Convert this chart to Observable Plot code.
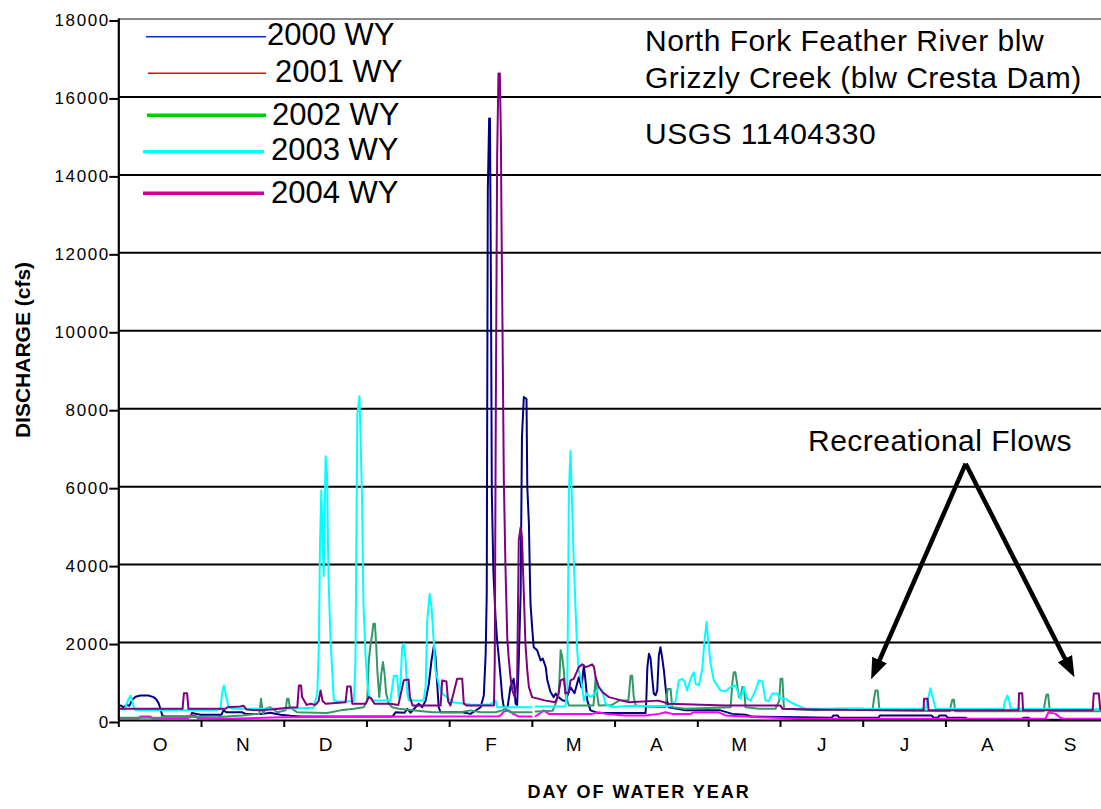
<!DOCTYPE html>
<html><head><meta charset="utf-8">
<script src="https://cdn.jsdelivr.net/npm/d3@7"></script>
<script src="https://cdn.jsdelivr.net/npm/@observablehq/plot@0.6"></script>
<style>
body{margin:0;background:#fff;}
#wrap{position:relative;width:1101px;height:809px;overflow:hidden;font-family:"Liberation Sans",Arial,sans-serif;}
#wrap svg{font-family:"Liberation Sans",Arial,sans-serif;}
g[aria-label="y-axis tick label"] text{letter-spacing:1.6px;}
.xlab text{letter-spacing:2px;}
</style></head>
<body><div id="wrap"></div>
<script>
// ---------- data (day of water year, discharge cfs) ----------
const wy2000 = [[0.6,385],[1.8,340],[2.9,400],[4.0,380],[5.0,530],[6.3,610],[8.1,640],[11.1,640],[13.0,600],[14.1,540],[15.0,430],[15.6,300],[16.3,130],[17.5,100],[26.9,100],[27.4,190],[30.6,150],[38.5,150],[39.2,260],[40.4,210],[46.3,210],[47.5,170],[53.9,170],[56.8,200],[60.6,150],[64.4,120],[68.1,100],[86.9,100],[102.6,100],[103.7,210],[107.1,200],[108.1,300],[109.3,200],[111.2,340],[112.4,430],[113.7,340],[115.0,510],[116.2,940],[117.2,1540],[118.1,1930],[118.7,1630],[119.4,860],[119.9,340],[120.6,210],[128.8,210],[131.8,170],[135.6,340],[136.8,640],[137.5,1720],[137.9,3250],[138.3,13600],[138.8,15450],[139.1,15450],[139.5,10800],[139.8,5850],[140.4,3800],[141.2,2650],[141.8,2050],[142.4,1630],[143.1,1110],[143.7,600],[144.3,340],[145.7,340],[146.8,860],[148.0,1070],[148.7,430],[149.3,400],[149.9,1540],[150.6,3250],[151.1,7280],[151.8,8300],[152.8,8250],[153.1,5990],[153.7,5050],[154.1,3600],[154.3,3000],[154.9,2400],[155.5,1880],[156.8,1800],[158.1,1540],[158.9,1590],[160.0,1370],[160.6,1030],[161.8,730],[163.0,600],[163.7,690],[164.8,600],[166.2,520],[167.4,500],[169.3,850],[170.8,700],[172.4,1110],[173.4,850],[174.3,1410],[174.9,1030],[175.6,510],[176.8,260],[179.8,190],[197.4,190],[197.7,510],[198.1,1370],[198.7,1710],[199.3,1590],[199.9,1110],[200.5,690],[201.2,650],[201.8,770],[202.4,1670],[203.0,1880],[203.7,1590],[204.3,1280],[204.9,860],[205.5,510],[206.1,340],[212.4,260],[225.5,260],[229.9,170],[234.9,150],[237.5,100],[255.5,85],[267.1,70],[267.9,130],[269.4,130],[270.1,70],[284.7,70],[285.3,130],[304.6,130],[305.4,70],[306.9,70],[307.6,130],[309.9,130],[310.7,70],[317.4,70],[318.1,20],[338.0,20],[339.1,70],[341.0,70],[341.7,20],[368.3,20]];
const wy2001 = [[0.6,60],[7.4,60],[8.1,100],[11.9,100],[12.6,60],[26.1,60],[26.9,130],[28.7,130],[29.5,60],[41.9,45],[61.8,85],[118.0,100],[142.3,110],[143.1,130],[144.3,230],[146.2,260],[147.6,180],[149.9,100],[154.7,100],[155.1,null],[156.2,110],[158.1,200],[159.3,260],[160.3,210],[161.2,170],[177.4,170],[179.9,210],[182.4,170],[189.9,130],[197.4,130],[202.3,170],[204.9,210],[207.5,170],[214.3,170],[215.4,210],[224.8,210],[227.4,130],[239.8,85],[254.8,45],[347.3,45],[348.4,210],[351.1,170],[352.9,70],[354.1,45],[368.3,45]];
const wy2002 = [[0.6,70],[15.6,70],[16.3,100],[36.2,85],[46.3,130],[51.9,170],[52.7,170],[53.3,560],[54.0,170],[55.0,300],[56.8,340],[59.4,210],[62.5,260],[63.1,560],[63.6,560],[64.1,340],[66.9,210],[73.7,200],[78.1,190],[83.1,260],[88.1,300],[91.8,340],[93.1,510],[93.7,1540],[94.4,1970],[95.0,2230],[95.4,2480],[96.0,2480],[96.5,1880],[96.9,1280],[97.6,600],[98.4,1200],[99.0,1500],[99.6,1200],[100.2,690],[101.2,430],[102.5,340],[104.9,300],[110.0,260],[117.5,210],[128.1,210],[131.8,260],[135.6,210],[141.2,210],[143.7,260],[144.9,300],[146.8,210],[154.7,210],[155.1,null],[156.2,230],[162.6,250],[163.7,430],[164.9,690],[165.6,1800],[166.2,1630],[166.8,1280],[167.4,690],[168.1,510],[168.7,385],[177.9,385],[178.7,1110],[179.2,700],[179.9,385],[184.9,400],[187.4,510],[191.0,510],[191.8,1150],[192.4,1150],[193.0,600],[193.7,385],[197.4,360],[204.9,340],[205.7,810],[206.8,810],[207.4,340],[212.4,300],[229.3,340],[230.0,1000],[230.5,1240],[231.1,1240],[231.8,900],[232.4,600],[233.0,600],[233.7,860],[234.3,860],[234.9,340],[239.9,300],[246.1,300],[247.5,500],[248.0,1070],[248.7,1070],[249.3,300],[261.1,260],[268.6,300],[278.7,300],[282.5,260],[282.9,500],[283.6,770],[284.4,770],[285.1,260],[311.5,240],[311.9,400],[312.4,530],[313.0,530],[313.4,240],[346.6,240],[347.2,500],[347.7,670],[348.3,670],[348.9,240],[368.3,240]];
const wy2003 = [[0.6,300],[2.1,280],[3.7,560],[4.4,640],[5.0,500],[5.6,340],[6.3,260],[36.2,260],[38.1,300],[38.7,700],[39.4,900],[40.0,700],[41.1,350],[42.6,300],[61.7,300],[73.0,330],[74.4,700],[75.0,2000],[75.4,4500],[75.9,5900],[76.4,4600],[76.8,3700],[77.2,5500],[77.5,6780],[78.1,6250],[78.4,4500],[78.7,3420],[79.4,2000],[80.6,510],[83.1,480],[88.1,500],[88.7,1500],[89.4,7870],[90.2,8320],[90.6,7280],[91.2,5570],[91.7,3000],[92.5,1630],[93.1,1030],[93.7,650],[95.0,510],[101.8,510],[103.1,1150],[104.3,1150],[104.9,600],[105.6,1000],[106.2,1880],[106.8,1970],[107.5,1540],[108.1,700],[108.7,510],[114.2,510],[115.0,860],[115.6,2570],[116.5,3250],[117.2,2910],[118.1,1970],[118.7,1280],[119.9,940],[121.2,690],[123.7,560],[125.0,470],[131.8,410],[135.6,400],[139.3,420],[141.2,510],[141.8,340],[154.7,340],[155.1,null],[156.2,360],[167.4,360],[168.1,860],[168.7,5900],[169.3,6920],[169.9,5500],[170.5,4110],[171.2,2830],[171.8,1800],[172.4,1280],[173.1,1110],[173.7,860],[174.3,510],[175.3,700],[176.8,600],[178.7,700],[179.9,860],[181.2,770],[182.4,430],[184.9,340],[189.9,370],[206.8,370],[208.7,500],[209.9,1030],[211.2,1070],[212.0,1000],[213.0,770],[214.3,1070],[215.5,1240],[216.2,940],[217.4,900],[218.7,1330],[219.5,2050],[220.3,2530],[220.9,2050],[221.8,1460],[223.0,1030],[224.3,900],[225.5,770],[227.4,750],[229.3,860],[231.1,900],[233.0,560],[234.3,860],[235.5,560],[236.8,510],[238.6,770],[239.9,1030],[241.2,1000],[242.4,510],[243.6,500],[244.9,690],[246.8,690],[248.0,560],[249.9,560],[251.7,470],[254.3,385],[257.4,300],[302.4,300],[303.0,470],[304.2,830],[305.5,470],[306.1,300],[331.6,300],[332.0,470],[333.0,640],[333.8,470],[334.2,300],[368.3,290]];
const wy2004 = [[0.6,300],[23.9,300],[24.4,700],[25.6,700],[26.1,300],[40.0,300],[40.7,340],[45.6,360],[46.7,380],[47.9,280],[52.4,260],[56.8,280],[63.6,330],[66.9,340],[67.5,900],[68.3,900],[68.7,600],[70.4,400],[71.9,430],[73.7,400],[74.9,500],[75.6,770],[76.4,500],[77.5,430],[85.0,470],[85.6,870],[86.9,870],[87.5,430],[92.5,430],[93.7,600],[94.7,560],[95.8,430],[101.8,430],[104.8,400],[106.8,1030],[108.6,1050],[109.1,600],[110.1,385],[120.6,385],[121.2,1030],[122.8,1000],[123.4,500],[124.3,385],[126.8,1070],[128.7,1070],[129.3,440],[130.3,385],[140.6,385],[140.9,1500],[141.3,8000],[141.8,14500],[142.3,16600],[142.8,16600],[143.2,15000],[143.4,13000],[143.8,10100],[144.3,6200],[144.9,4000],[145.6,2100],[146.2,1540],[146.8,1110],[147.5,770],[148.4,600],[149.3,1030],[149.9,4620],[150.6,4960],[151.1,4700],[151.8,3250],[152.4,1970],[153.1,1280],[153.7,860],[154.9,600],[160.0,510],[163.7,470],[164.8,700],[165.6,1030],[166.8,1070],[167.4,700],[168.6,720],[169.3,1030],[170.5,1070],[172.4,1370],[173.7,1440],[174.9,1370],[176.2,1400],[177.4,1440],[178.1,1370],[178.7,1110],[179.9,860],[181.2,730],[183.7,600],[188.7,510],[191.2,470],[202.3,510],[206.1,430],[227.4,385],[239.8,385],[248.0,385],[248.7,300],[264.9,275],[292.9,260],[301.6,260],[301.8,560],[303.1,560],[303.5,260],[337.2,260],[337.4,700],[338.6,700],[338.9,260],[365.0,260],[365.4,690],[367.3,690],[367.8,300],[368.3,260]];

const monthTicks = [0, 31, 62, 93, 124, 155, 186, 217, 248, 279, 310, 341];
const monthLetters = ["O", "N", "D", "J", "F", "M", "A", "M", "J", "J", "A", "S"];
const yTicks = [0, 2000, 4000, 6000, 8000, 10000, 12000, 14000, 16000, 18000];
const gridBlack = [2000, 4000, 6000, 8000, 10000, 12000, 14000, 16000];
const gridGrey = [18000];

const legendLabels = ["2000 WY", "2001 WY", "2002 WY", "2003 WY", "2004 WY"];
const legendColors = ["#0033cc", "#ff0000", "#00cc00", "#00ffff", "#cc0099"];
const titleLines = ["North Fork Feather River blw", "Grizzly Creek (blw Cresta Dam)", "USGS 11404330"];
const noteText = "Recreational Flows";
const yLabel = "DISCHARGE (cfs)";
const xLabel = "DAY OF WATER YEAR";
const arrowBase = {day: 317.4, cfs: 6590};
const arrowTips = [{day: 282.1, cfs: 1080}, {day: 358.0, cfs: 1130}];

// ---------- series (plot colours) ----------
const series = [
  {data: wy2000, color: "#000080"},
  {data: wy2001, color: "#ff00ff"},
  {data: wy2002, color: "#339966"},
  {data: wy2003, color: "#00ffff"},
  {data: wy2004, color: "#800080"}
];

const arrows = arrowTips.map(t => ({x1: arrowBase.day, y1: arrowBase.cfs, x2: t.day, y2: t.cfs}));

const chart = Plot.plot({
  width: 1101, height: 809,
  marginLeft: 118.3, marginRight: 0, marginTop: 18.5, marginBottom: 89,
  x: {domain: [0, 368.3], axis: null},
  y: {domain: [0, 18000], axis: null},
  style: {background: "white", overflow: "visible", fontFamily: "Liberation Sans, Arial, sans-serif", color: "black"},
  marks: [
    Plot.ruleY(gridBlack, {stroke: "black", strokeWidth: 2}),
    Plot.ruleY(gridGrey, {stroke: "#888888", strokeWidth: 2}),
    ...series.map(s => Plot.line(s.data, {x: d => d[0], y: d => d[1], stroke: s.color, strokeWidth: 2, strokeLinejoin: "round"})),
    Plot.link(arrows, {x1: "x1", y1: "y1", x2: "x2", y2: "y2", stroke: "black", strokeWidth: 4.5, className: "rf-arrow"}),
    Plot.ruleY([0], {stroke: "black", strokeWidth: 2}),
    Plot.ruleX([0], {y1: 0, y2: 18000, stroke: "black", strokeWidth: 2.2}),
    Plot.axisY({ticks: yTicks, tickSize: 9, tickPadding: 0, tickFormat: d => String(d), fontSize: 17, strokeWidth: 2, dy: 2}),
    Plot.axisX({ticks: monthTicks, tickSize: 7, tickFormat: () => "", strokeWidth: 2}),
    Plot.text(monthLetters, {x: (d, i) => monthTicks[i] + 15.5, text: d => d, frameAnchor: "bottom", dy: 30, fontSize: 19, fill: "black"}),
    Plot.text([xLabel], {text: d => d, frameAnchor: "bottom", dx: 29, dy: 77, fontSize: 18, fontWeight: "bold", fill: "black", className: "xlab"})
  ]
});

const wrap = document.getElementById("wrap");
wrap.appendChild(chart);

// arrow heads (filled triangles)
const svg = d3.select(chart);
svg.append("defs").append("marker")
  .attr("id", "rf-head").attr("markerUnits", "userSpaceOnUse")
  .attr("viewBox", "0 -9 22 18").attr("markerWidth", 22).attr("markerHeight", 18)
  .attr("refX", 20).attr("refY", 0).attr("orient", "auto")
  .append("path").attr("d", "M0,-8L21,0L0,8Z").attr("fill", "black");
svg.selectAll(".rf-arrow path").each(function () {
  const L = this.getTotalLength();
  this.setAttribute("stroke-dasharray", `${Math.max(0, L - 14)} ${L + 20}`);
  this.setAttribute("marker-end", "url(#rf-head)");
});

// ---------- overlay: legend, titles, note, y label ----------
const layout = {
  legendLine: [[146, 266, 36.7, 1.5], [148, 266, 73.3, 1.5], [147, 266, 115.3, 3.5], [143, 264, 151.7, 3.5], [143, 264, 193.3, 3.5]],
  legendText: [[267, 45], [275, 82], [272, 125], [271, 160], [271, 203]],
  titleX: 645, titleBase: [50.5, 87.5, 143.5],
  note: [808, 451],
  yLabel: [29.5, 350]
};
const ov = d3.select(wrap).append("svg")
  .attr("width", 1101).attr("height", 809)
  .style("position", "absolute").style("left", "0px").style("top", "0px")
  .style("font-family", "Liberation Sans, Arial, sans-serif");
legendLabels.forEach((lab, i) => {
  const [x1, x2, y, w] = layout.legendLine[i];
  ov.append("line").attr("x1", x1).attr("x2", x2).attr("y1", y).attr("y2", y)
    .attr("stroke", legendColors[i]).attr("stroke-width", w);
  const [tx, ty] = layout.legendText[i];
  ov.append("text").attr("x", tx).attr("y", ty).attr("font-size", 31).attr("fill", "black").text(lab);
});
titleLines.forEach((t, i) => {
  ov.append("text").attr("x", layout.titleX).attr("y", layout.titleBase[i])
    .attr("font-size", 30).style("letter-spacing", "0.5px").attr("fill", "black").text(t);
});
ov.append("text").attr("x", layout.note[0]).attr("y", layout.note[1])
  .attr("font-size", 30).style("letter-spacing", "0.5px").attr("fill", "black").text(noteText);
const [ylx, yly] = layout.yLabel;
ov.append("text").attr("x", ylx).attr("y", yly)
  .attr("transform", `rotate(-90, ${ylx}, ${yly})`)
  .attr("text-anchor", "middle").attr("font-size", 21).attr("font-weight", "bold")
  .attr("fill", "black").text(yLabel);
</script>
</body></html>
